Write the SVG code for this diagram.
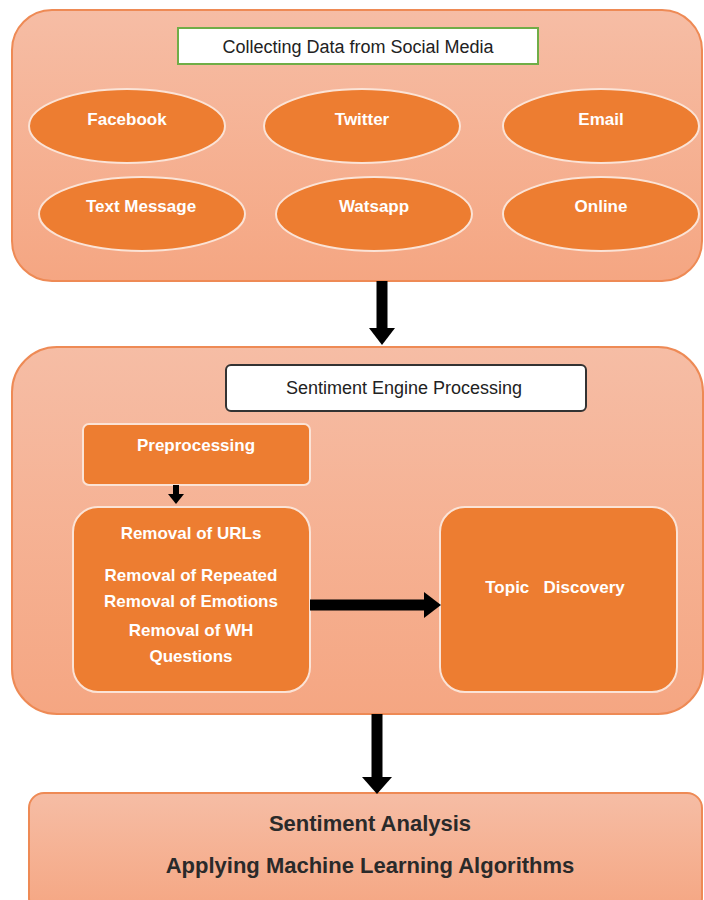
<svg xmlns="http://www.w3.org/2000/svg" width="704" height="900" viewBox="0 0 704 900">
<defs>
<linearGradient id="bg" x1="0" y1="0" x2="0" y2="1">
<stop offset="0" stop-color="#F6BDA5"/>
<stop offset="1" stop-color="#F5A682"/>
</linearGradient>
</defs>
<style>
.cont{fill:url(#bg);stroke:#EE8A55;stroke-width:2}
.ell{fill:#ED7D31;stroke:#FBE3D6;stroke-width:2}
.box{fill:#ED7D31;stroke:#FBE3D6;stroke-width:2}
.wt{font-family:"Liberation Sans",Arial,sans-serif;font-size:17px;font-weight:bold;fill:#fff;text-anchor:middle}
.dt{font-family:"Liberation Sans",Arial,sans-serif;font-size:18px;fill:#222;text-anchor:middle}
.bt{font-family:"Liberation Sans",Arial,sans-serif;font-size:22px;font-weight:bold;fill:#2a2a2a;text-anchor:middle}
</style>
<g id="collect">
<rect class="cont" x="12" y="10" width="690" height="271" rx="40"/>
<rect x="178" y="28" width="360" height="36" fill="#fff" stroke="#70AD47" stroke-width="2"/>
<text class="dt" x="358" y="53">Collecting Data from Social Media</text>
</g>
<g id="facebook"><ellipse class="ell" cx="127" cy="126" rx="98" ry="37"/><text class="wt" x="127" y="125">Facebook</text></g>
<g id="twitter"><ellipse class="ell" cx="362" cy="126" rx="98" ry="37"/><text class="wt" x="362" y="125">Twitter</text></g>
<g id="email"><ellipse class="ell" cx="601" cy="126" rx="98" ry="37"/><text class="wt" x="601" y="125">Email</text></g>
<g id="textmessage"><ellipse class="ell" cx="142" cy="214" rx="103" ry="37"/><text class="wt" x="141" y="212">Text Message</text></g>
<g id="watsapp"><ellipse class="ell" cx="374" cy="214" rx="98" ry="37"/><text class="wt" x="374" y="212">Watsapp</text></g>
<g id="online"><ellipse class="ell" cx="601" cy="214" rx="98" ry="37"/><text class="wt" x="601" y="212">Online</text></g>
<g id="engine">
<rect class="cont" x="12" y="347" width="691" height="367" rx="45"/>
<rect x="226" y="365" width="360" height="46" rx="5" fill="#fff" stroke="#333" stroke-width="2"/>
<text class="dt" x="404" y="394">Sentiment Engine Processing</text>
</g>
<g id="preprocessing"><rect class="box" x="83" y="424" width="227" height="61" rx="6"/><text class="wt" x="196" y="451">Preprocessing</text></g>
<g id="removal"><rect class="box" x="73" y="507" width="237" height="185" rx="25"/>
<text class="wt" x="191" y="539">Removal of URLs</text>
<text class="wt" x="191" y="581">Removal of Repeated</text>
<text class="wt" x="191" y="607">Removal of Emotions</text>
<text class="wt" x="191" y="636">Removal of WH</text>
<text class="wt" x="191" y="662">Questions</text>
</g>
<g id="topic"><rect class="box" x="440" y="507" width="237" height="185" rx="25"/><text class="wt" x="555" y="593" xml:space="preserve">Topic   Discovery</text></g>
<g id="analysis"><rect class="cont" x="29" y="793" width="673" height="120" rx="15"/>
<text class="bt" x="370" y="831">Sentiment Analysis</text>
<text class="bt" x="370" y="873">Applying Machine Learning Algorithms</text>
</g>
<g id="connectors">
<path d="M382,281 V330" stroke="#000" stroke-width="11"/><path d="M369,328 L395,328 L382,345 Z"/>
<path d="M176,485 V495" stroke="#000" stroke-width="6"/><path d="M168,494 L184,494 L176,504 Z"/>
<path d="M310,605 H426" stroke="#000" stroke-width="11"/><path d="M424,592 L441,605 L424,618 Z"/>
<path d="M377,714 V779" stroke="#000" stroke-width="11"/><path d="M362,777 L392,777 L377,794 Z"/>
</g>
</svg>
